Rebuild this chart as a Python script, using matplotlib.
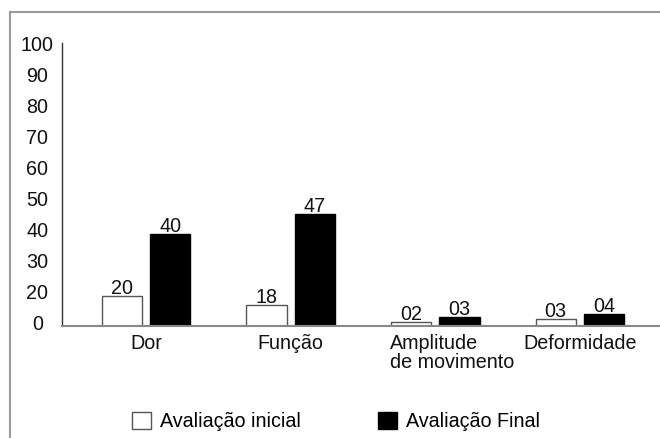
import matplotlib
matplotlib.use("Agg")
import matplotlib.pyplot as plt
import matplotlib.transforms as mtransforms
from matplotlib.lines import Line2D
from matplotlib.patches import Patch
import numpy as np

plt.rcParams["font.family"] = ["Liberation Sans", "DejaVu Sans"]

# Data (bar tops; printed labels as shown)
categories = ["Dor", "Função", "Amplitude\nde movimento", "Deformidade"]
initial_heights = [18.7, 15.8, 10.3, 11.2]
final_heights = [38.7, 44.9, 11.9, 12.9]
initial_labels = ["20", "18", "02", "03"]
final_labels = ["40", "47", "03", "04"]
ytick_values = [10, 20, 30, 40, 50, 60, 70, 80, 90, 100]
ytick_labels = ["0", "20", "30", "40", "50", "60", "70", "80", "90", "100"]
series_names = ["Avaliação inicial", "Avaliação Final"]

FS = 14.2
W, H = 660, 438

fig = plt.figure(figsize=(W / 100, H / 100), dpi=100)
ax = fig.add_axes([62.3 / W, 1 - 325.7 / H, 0.92, (325.7 - 43.3) / H])

x = np.arange(len(categories))
off, bw = 0.167, 0.279
b1 = ax.bar(x - off, initial_heights, bw, color="white", edgecolor="#555555", linewidth=1.0)
b2 = ax.bar(x + off, final_heights, bw, color="black", edgecolor="black", linewidth=1.0)

for bars, labels in ((b1, initial_labels), (b2, final_labels)):
    for rect, lab in zip(bars, labels):
        ax.annotate(lab, (rect.get_x() + rect.get_width() / 2, rect.get_height()),
                    xytext=(0, 1.5), textcoords="offset points",
                    ha="center", va="baseline", fontsize=FS, color="#111111")

ax.set_xlim((62.3 - 145.5) / 143.5, 3.62)
ax.set_ylim(9.05, 98.73)
ax.set_yticks(ytick_values)
ax.set_yticklabels(ytick_labels)
ax.set_xticks(x)
ax.set_xticklabels(categories)

ax.tick_params(axis="y", length=0, pad=18, labelsize=FS, labelcolor="#111111")
ax.tick_params(axis="x", length=0, pad=6, labelsize=FS, labelcolor="#111111")
for lab in ax.get_yticklabels():
    lab.set_horizontalalignment("center")

# the two-line label sits left-aligned under its bars
amp = ax.get_xticklabels()[2]
amp.set_horizontalalignment("left")
amp.set_multialignment("left")
amp.set_linespacing(1.02)
amp.set_transform(amp.get_transform() + mtransforms.ScaledTranslation(-45 / 100, 0, fig.dpi_scale_trans))

for side in ("top", "right"):
    ax.spines[side].set_visible(False)
ax.spines["left"].set_color("#333333")
ax.spines["left"].set_linewidth(1.0)
ax.spines["bottom"].set_color("#888888")
ax.spines["bottom"].set_linewidth(1.5)

handles = [Patch(facecolor="white", edgecolor="#555555", linewidth=1.0),
           Patch(facecolor="black", edgecolor="black")]
fig.legend(handles, series_names, loc="center", bbox_to_anchor=(336 / W, 1 - 421.5 / H),
           ncol=2, frameon=False, fontsize=FS, handlelength=0.98, handleheight=0.98,
           handletextpad=0.46, columnspacing=3.9)

# grey outer frame (left and top edges visible)
fx, fy = 10.5 / W, 1 - 12.3 / H
fig.add_artist(Line2D([fx, fx], [0, fy], color="#9a9a9a", lw=1.5))
fig.add_artist(Line2D([fx, 1], [fy, fy], color="#9a9a9a", lw=1.5))

fig.savefig("out.png", dpi=100)
